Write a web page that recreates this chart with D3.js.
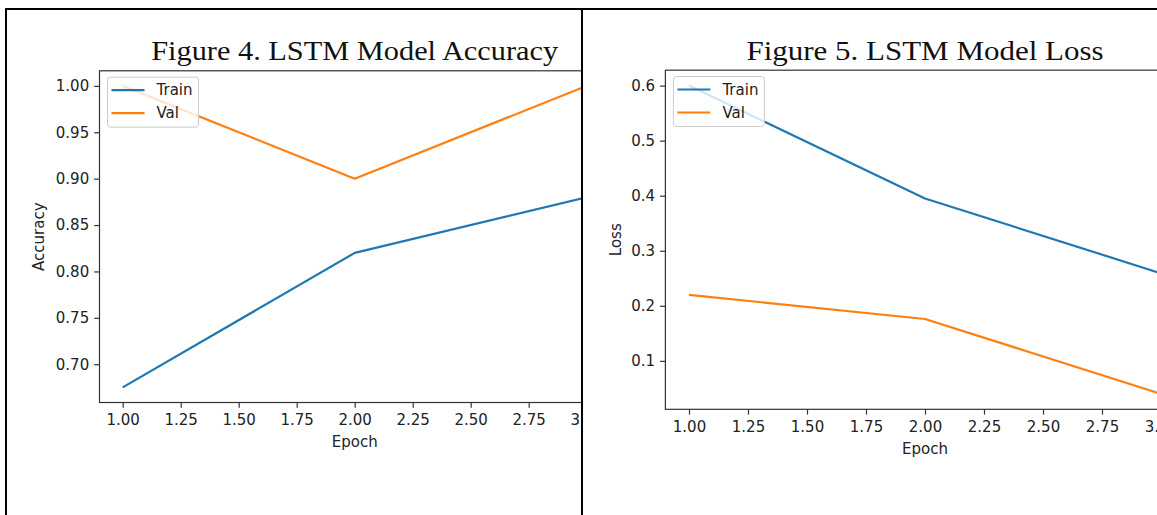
<!DOCTYPE html>
<html>
<head>
<meta charset="utf-8">
<script src="https://cdn.jsdelivr.net/npm/d3@7"></script>
<style>
  body { margin: 0; background: #fff; }
  svg { display: block; }
  .tick text { font-family: "DejaVu Sans", sans-serif; font-size: 15px; fill: #222; }
  .axis-label { font-family: "DejaVu Sans", sans-serif; font-size: 15px; fill: #222; }
  .fig-title { font-family: "Liberation Serif", "Times New Roman", serif; font-size: 28px; fill: #111; }
  .legend text { font-family: "DejaVu Sans", sans-serif; font-size: 15px; fill: #222; }
</style>
</head>
<body>
<script>
// values
const epochs = [1, 2, 3];
const seriesNames = ["Train", "Val"];
const accTrain = [0.675, 0.82, 0.88];
const accVal = [1.0, 0.90, 1.0];
const lossTrain = [0.60, 0.395, 0.259];
const lossVal = [0.22, 0.176, 0.040];
const epochTicks = [1.0, 1.25, 1.5, 1.75, 2.0, 2.25, 2.5, 2.75, 3.0];
const accTicks = [0.70, 0.75, 0.80, 0.85, 0.90, 0.95, 1.00];
const lossTicks = [0.1, 0.2, 0.3, 0.4, 0.5, 0.6];

const colors = ["#1f77b4", "#ff7f0e"];
const W = 1157, H = 515;

const svg = d3.select("body").append("svg")
  .attr("width", W)
  .attr("height", H);

// panel = one table cell holding a matplotlib figure
const panels = [
  {
    title: "Figure 4. LSTM Model Accuracy",
    titleWidth: 407,
    ylabel: "Accuracy",
    series: [accTrain, accVal],
    yTicks: accTicks, yFmt: ".2f",
    cell: [7, 10, 581, H],
    box: {left: 99.5, right: 609.9, top: 70.8, bottom: 402.5},
    ylabelX: 44, xlabelY: 447
  },
  {
    title: "Figure 5. LSTM Model Loss",
    titleWidth: 357,
    ylabel: "Loss",
    series: [lossTrain, lossVal],
    yTicks: lossTicks, yFmt: ".1f",
    cell: [583, 10, W, H],
    box: {left: 665.4, right: 1184.6, top: 70.2, bottom: 409.3},
    ylabelX: 621, xlabelY: 454
  }
];

// matplotlib-style 5% padding around the data
function padded(ext) {
  const m = (ext[1] - ext[0]) * 0.05;
  return [ext[0] - m, ext[1] + m];
}

panels.forEach((p, pi) => {
  const clipId = "clip-" + pi;
  svg.append("clipPath").attr("id", clipId)
    .append("rect")
      .attr("x", p.cell[0]).attr("y", p.cell[1])
      .attr("width", p.cell[2] - p.cell[0]).attr("height", p.cell[3] - p.cell[1]);

  const g = svg.append("g").attr("clip-path", "url(#" + clipId + ")");
  const b = p.box;

  const x = d3.scaleLinear()
    .domain(padded(d3.extent(epochs)))
    .range([b.left, b.right]);

  const allVals = p.series.flat();
  const y = d3.scaleLinear()
    .domain(padded(d3.extent(allVals)))
    .range([b.bottom, b.top]);

  // title, centred over the axes (the scan is a little stretched sideways)
  g.append("text")
    .attr("class", "fig-title")
    .attr("x", (b.left + b.right) / 2)
    .attr("y", 60)
    .attr("text-anchor", "middle")
    .attr("textLength", p.titleWidth)
    .attr("lengthAdjust", "spacingAndGlyphs")
    .text(p.title);

  // data lines
  const line = d3.line()
    .x((d, i) => x(epochs[i]))
    .y(d => y(d));

  p.series.forEach((s, si) => {
    g.append("path")
      .datum(s)
      .attr("d", line)
      .attr("fill", "none")
      .attr("stroke", colors[si])
      .attr("stroke-width", 2.2)
      .attr("stroke-linejoin", "round");
  });

  // axes
  const xAxis = d3.axisBottom(x)
    .tickValues(epochTicks)
    .tickFormat(d3.format(".2f"))
    .tickSize(5.3).tickPadding(7);
  const yAxis = d3.axisLeft(y)
    .tickValues(p.yTicks)
    .tickFormat(d3.format(p.yFmt))
    .tickSize(5.3).tickPadding(5);

  const gx = g.append("g")
    .attr("transform", "translate(0," + b.bottom + ")")
    .call(xAxis);
  const gy = g.append("g")
    .attr("transform", "translate(" + b.left + ",0)")
    .call(yAxis);
  [gx, gy].forEach(a => {
    a.select(".domain").remove();
    a.selectAll(".tick line").attr("stroke", "#333").attr("stroke-width", 1.2);
  });

  // spines
  g.append("rect")
    .attr("x", b.left).attr("y", b.top)
    .attr("width", b.right - b.left).attr("height", b.bottom - b.top)
    .attr("fill", "none")
    .attr("stroke", "#333")
    .attr("stroke-width", 1.2);

  // axis labels
  g.append("text")
    .attr("class", "axis-label")
    .attr("x", (b.left + b.right) / 2)
    .attr("y", p.xlabelY)
    .attr("text-anchor", "middle")
    .text("Epoch");
  g.append("text")
    .attr("class", "axis-label")
    .attr("transform", "translate(" + p.ylabelX + "," + ((b.top + b.bottom) / 2) + ") rotate(-90)")
    .attr("text-anchor", "middle")
    .text(p.ylabel);

  // legend, upper left
  const lg = g.append("g")
    .attr("class", "legend")
    .attr("transform", "translate(" + (b.left + 8) + "," + (b.top + 6.3) + ")");
  lg.append("rect")
    .attr("width", 91).attr("height", 50)
    .attr("rx", 3)
    .attr("fill", "#fff").attr("fill-opacity", 0.8)
    .attr("stroke", "#ccc").attr("stroke-width", 1);
  seriesNames.forEach((name, i) => {
    const row = lg.append("g").attr("transform", "translate(0," + (13 + i * 23) + ")");
    row.append("line")
      .attr("x1", 4).attr("x2", 37)
      .attr("stroke", colors[i]).attr("stroke-width", 2.2);
    row.append("text")
      .attr("x", 49).attr("y", 5)
      .text(name);
  });
});

// table cell borders
svg.append("rect").attr("x", 5).attr("y", 8).attr("width", W - 5).attr("height", 2).attr("fill", "#000");
svg.append("rect").attr("x", 5).attr("y", 8).attr("width", 2).attr("height", H - 8).attr("fill", "#000");
svg.append("rect").attr("x", 581).attr("y", 8).attr("width", 2).attr("height", H - 8).attr("fill", "#000");
</script>
</body>
</html>
